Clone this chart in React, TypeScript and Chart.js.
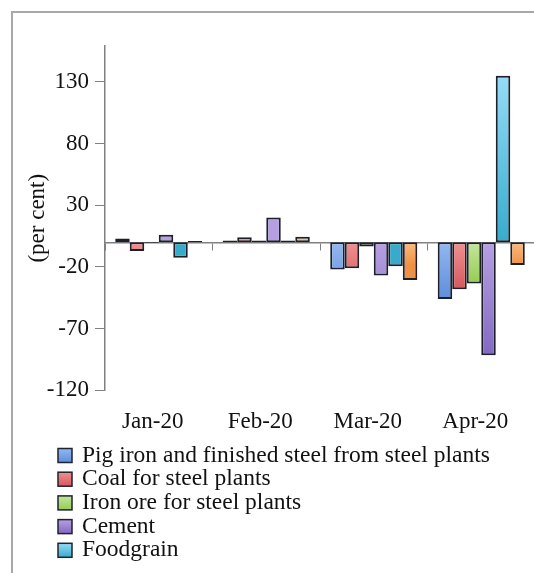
import React, { useEffect, useRef } from "react";
import { Chart, registerables } from "chart.js";

Chart.register(...registerables);

const categories = ["Jan-20", "Feb-20", "Mar-20", "Apr-20"];
const pigIron = [3, 1.5, -22, -46];
const coal = [-7, 4, -21, -38];
const ironOre = [-0.5, 1.5, -3.5, -33.5];
const cement = [6, 20, -27, -91.5];
const foodgrain = [-12.5, 1.5, -19.5, 135];
const fertilisers = [1, 4.5, -30.5, -18.5];

const seriesNames = [
  "Pig iron and finished steel from steel plants",
  "Coal for steel plants",
  "Iron ore for steel plants",
  "Cement",
  "Foodgrain",
  "Fertilisers",
];
const seriesValues = [pigIron, coal, ironOre, cement, foodgrain, fertilisers];
const seriesColors = ["#6d9de6", "#e46b6b", "#a9d66c", "#9a82cc", "#5ec3e3", "#f6a45f"];
const seriesLight = ["#93b8f0", "#f09090", "#c6e69a", "#b6a0e2", "#95dcf6", "#fbbb7d"];
const seriesDark = ["#5f8ddb", "#d6585e", "#94cc55", "#8368c2", "#38abcd", "#f09044"];
const legendCount = 5;

const yTicks = [-120, -70, -20, 30, 80, 130];
const yMin = -120;
const yMax = 159;
const yTitle = "(per cent)";

const FONT = '"Liberation Serif", "Times New Roman", serif';

const gradientPlugin = {
  id: "barGradient",
  beforeDatasetsDraw(chart: any) {
    const ctx = chart.ctx;
    chart.data.datasets.forEach((_ds: any, di: number) => {
      const meta = chart.getDatasetMeta(di);
      meta.data.forEach((bar: any) => {
        const top = Math.min(bar.y, bar.base);
        const bottom = Math.max(bar.y, bar.base);
        if (bottom - top < 1) return;
        const g = ctx.createLinearGradient(0, top, 0, bottom);
        g.addColorStop(0, seriesLight[di]);
        g.addColorStop(1, seriesDark[di]);
        bar.options.backgroundColor = g;
      });
    });
  },
};

const legendPlugin = {
  id: "stackedLegend",
  afterDraw(chart: any) {
    const ctx = chart.ctx;
    ctx.save();
    ctx.font = `23.5px ${FONT}`;
    ctx.textBaseline = "middle";
    ctx.textAlign = "left";
    chart.data.datasets.slice(0, legendCount).forEach((ds: any, i: number) => {
      const y = 455.5 + i * 23.7;
      const g = ctx.createLinearGradient(0, y - 7, 0, y + 7);
      g.addColorStop(0, seriesLight[i]);
      g.addColorStop(1, seriesDark[i]);
      ctx.fillStyle = g;
      ctx.fillRect(58, y - 7, 14, 14);
      ctx.strokeStyle = "#1f2230";
      ctx.lineWidth = 1.5;
      ctx.strokeRect(58, y - 7, 14, 14);
      ctx.fillStyle = "#111";
      ctx.fillText(ds.label, 82, y);
    });
    ctx.restore();
  },
};

export default function App() {
  const ref = useRef<HTMLCanvasElement>(null);

  useEffect(() => {
    if (!ref.current) return;
    const chart = new Chart(ref.current, {
      type: "bar",
      data: {
        labels: categories,
        datasets: seriesNames.map((name, i) => ({
          label: name,
          data: seriesValues[i],
          backgroundColor: seriesColors[i],
          borderColor: "#1d1f2a",
          borderWidth: 2,
          borderSkipped: false,
          categoryPercentage: 0.81,
          barPercentage: 1.0,
          xAxisID: "x",
        })),
      },
      options: {
        responsive: false,
        animation: false,
        layout: { padding: { left: 0, top: 46, right: 10, bottom: 119 } },
        plugins: {
          legend: { display: false },
          tooltip: { enabled: false },
        },
        scales: {
          x: {
            type: "category",
            position: { y: 0 } as any,
            offset: true,
            grid: {
              display: true,
              offset: true,
              drawOnChartArea: false,
              drawTicks: true,
              tickLength: 7,
              tickColor: "#808080",
            },
            border: { display: true, color: "#808080", width: 1.5 },
            ticks: { display: false },
          },
          x2: {
            type: "category",
            position: "bottom",
            labels: categories,
            offset: true,
            grid: { display: false, drawTicks: false },
            border: { display: false },
            ticks: {
              color: "#111",
              padding: 18,
              labelOffset: -6,
              font: { family: FONT, size: 23 },
              maxRotation: 0,
              autoSkip: false,
            },
          },
          y: {
            type: "linear",
            min: yMin,
            max: yMax,
            afterBuildTicks: (scale: any) => {
              scale.ticks = yTicks.map((v) => ({ value: v }));
            },
            afterFit: (scale: any) => {
              scale.width = 105;
            },
            grid: {
              drawOnChartArea: false,
              drawTicks: true,
              tickLength: 10,
              tickColor: "#808080",
            },
            border: { display: true, color: "#808080", width: 1.5 },
            ticks: {
              color: "#111",
              padding: 6,
              font: { family: FONT, size: 23 },
            },
            title: {
              display: true,
              text: yTitle,
              color: "#111",
              font: { family: FONT, size: 23 },
              padding: { top: 24, bottom: 0 },
            },
          },
        },
      },
      plugins: [gradientPlugin, legendPlugin],
    });
    return () => chart.destroy();
  }, []);

  return (
    <div
      style={{
        position: "absolute",
        left: 0,
        top: 0,
        width: 534,
        height: 573,
        overflow: "hidden",
        background: "#fff",
      }}
    >
      <div
        style={{
          position: "absolute",
          left: 11,
          top: 11,
          width: 600,
          height: 600,
          border: "2px solid #a8a8a8",
        }}
      />
      <canvas
        ref={ref}
        width={545}
        height={573}
        style={{ position: "absolute", left: 0, top: 0 }}
      />
    </div>
  );
}
